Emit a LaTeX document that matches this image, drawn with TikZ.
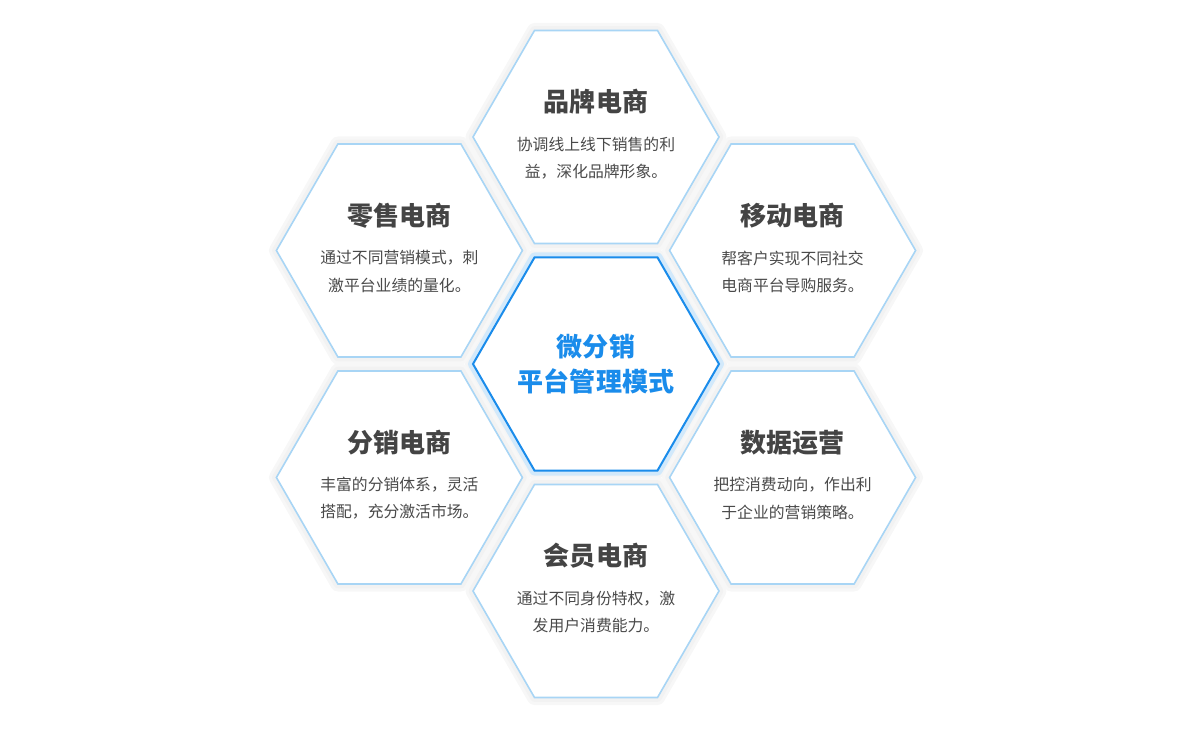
\documentclass[tikz,border=0pt]{standalone}
\usepackage{fontspec}
\setmainfont{Noto Sans CJK SC}
\usetikzlibrary{shapes.geometric, calc}
\definecolor{hexline}{HTML}{A8D5F5}
\definecolor{coreblue}{HTML}{1A8CEB}
\definecolor{corehalo}{HTML}{D2E9FB}
\definecolor{titlegray}{HTML}{444444}
\definecolor{textgray}{HTML}{4A4A4A}

\begin{document}
\begin{tikzpicture}[
      x=0.2mm, y=0.2mm,
      hexcell/.style={regular polygon, regular polygon sides=6,
                      minimum size=49.2mm, inner sep=0pt,
                      preaction={draw=black!3, line width=3.0mm, line join=round},
                      preaction={draw=black!5, line width=1.7mm, line join=round},
                      fill=white, draw=hexline, line width=0.32mm},
      corecell/.style={regular polygon, regular polygon sides=6,
                       minimum size=49.2mm, inner sep=0pt,
                       preaction={draw=black!4, line width=3.2mm, line join=round},
                       preaction={draw=corehalo, line width=2.0mm, line join=round},
                       fill=white, draw=coreblue, line width=0.4mm},
      headline/.style={font=\fontsize{14.8}{18}\selectfont\bfseries, text=titlegray},
      blurb/.style={font=\fontsize{9}{15.4}\selectfont, text=textgray, align=center},
      coretext/.style={font=\fontsize{14.8}{19.9}\selectfont\bfseries, text=coreblue, align=center},
    ]
    \useasboundingbox (-596,-366) rectangle (604,364);

    % honeycomb
    \node[corecell] (core)   at (0,0)     {};
    \node[hexcell]  (brand)  at (90:227)  {};
    \node[hexcell]  (mobile) at (30:227)  {};
    \node[hexcell]  (data)   at (-30:227) {};
    \node[hexcell]  (member) at (-90:227) {};
    \node[hexcell]  (resale) at (-150:227) {};
    \node[hexcell]  (retail) at (150:227) {};

    % texts
    \node[coretext] (core-t) at (core.center) {微分销\\平台管理模式};

    \node[headline] (brand-t) at ([shift={(0,35)}]brand.center) {品牌电商};
    \node[blurb]    (brand-d) at ([shift={(0,-21)}]brand.center)
      {协调线上线下销售的利\\益，深化品牌形象。};

    \node[headline] (mobile-t) at ([shift={(0,35)}]mobile.center) {移动电商};
    \node[blurb]    (mobile-d) at ([shift={(0,-21)}]mobile.center)
      {帮客户实现不同社交\\电商平台导购服务。};

    \node[headline] (data-t) at ([shift={(0,35)}]data.center) {数据运营};
    \node[blurb]    (data-d) at ([shift={(0,-21)}]data.center)
      {把控消费动向，作出利\\于企业的营销策略。};

    \node[headline] (member-t) at ([shift={(0,35)}]member.center) {会员电商};
    \node[blurb]    (member-d) at ([shift={(0,-21)}]member.center)
      {通过不同身份特权，激\\发用户消费能力。};

    \node[headline] (resale-t) at ([shift={(0,35)}]resale.center) {分销电商};
    \node[blurb]    (resale-d) at ([shift={(0,-21)}]resale.center)
      {丰富的分销体系，灵活\\搭配，充分激活市场。};

    \node[headline] (retail-t) at ([shift={(0,35)}]retail.center) {零售电商};
    \node[blurb]    (retail-d) at ([shift={(0,-21)}]retail.center)
      {通过不同营销模式，刺\\激平台业绩的量化。};
  \end{tikzpicture}
\end{document}
